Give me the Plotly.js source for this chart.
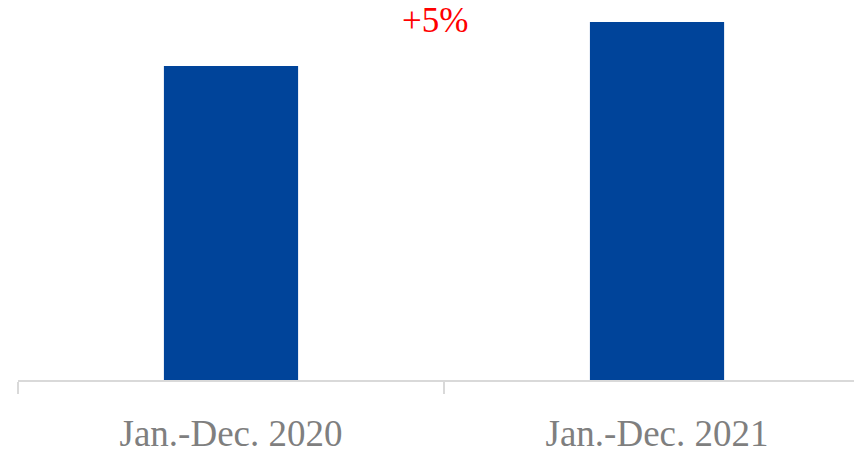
<!DOCTYPE html>
<html>
<head>
<meta charset="utf-8">
<script src="https://cdn.plot.ly/plotly-3.0.1.min.js"></script>
<style>html,body{margin:0;padding:0;background:#fff;}#chart{width:854px;height:454px;}</style>
</head>
<body>
<div id="chart"></div>
<script>
const categories = ["Jan.-Dec. 2020", "Jan.-Dec. 2021"];
const values = [100, 105];
const changeLabel = "+5%";

const serif = '"Liberation Serif", "Times New Roman", Times, serif';

const trace = {
  type: "bar",
  x: categories,
  y: values,
  width: 0.315,
  marker: { color: "#00449a" },
  hoverinfo: "skip"
};

const layout = {
  width: 854,
  height: 454,
  margin: { l: 18, r: 0, t: 0, b: 74 },
  paper_bgcolor: "#ffffff",
  plot_bgcolor: "#ffffff",
  showlegend: false,
  font: { family: serif },
  xaxis: {
    type: "category",
    range: [-0.5, 1.4624],
    tickson: "boundaries",
    ticks: "outside",
    ticklen: 12,
    tickcolor: "#d9d9d9",
    tickwidth: 1.5,
    showline: true,
    linecolor: "#d9d9d9",
    linewidth: 1.5,
    showgrid: false,
    zeroline: false,
    tickfont: { family: serif, size: 37, color: "#7f7f7f" },
    ticklabelstandoff: 20
  },
  yaxis: {
    range: [64.32, 107.5],
    visible: false,
    showgrid: false,
    zeroline: false
  },
  annotations: [{
    x: 0.48, xref: "x",
    y: 1, yref: "paper",
    yanchor: "top",
    xanchor: "center",
    yshift: 1,
    text: changeLabel,
    showarrow: false,
    font: { family: serif, size: 35, color: "#ff0000" }
  }]
};

Plotly.newPlot("chart", [trace], layout, { displayModeBar: false, staticPlot: true });
</script>
</body>
</html>
